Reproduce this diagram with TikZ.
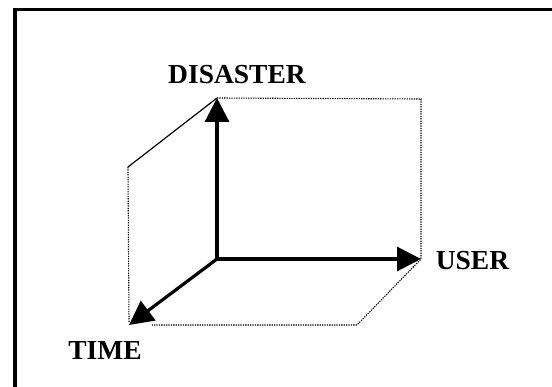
\documentclass[tikz,border=0pt]{standalone}
\usepackage{fontspec}
\setmainfont{Liberation Serif}
\usetikzlibrary{arrows.meta}
\begin{document}
\begin{tikzpicture}[x=1pt,y=-1pt,
  axis/.style={line width=3.2pt,-{Triangle[length=24pt,width=24pt]}},
  guide/.style={line width=1.1pt,dash pattern=on 1.3pt off 1.1pt},
  edge/.style={line width=1.2pt},
  frameline/.style={line width=3.4pt},
  lbl/.style={font=\bfseries\fontsize{27.5}{30}\selectfont,inner sep=0pt}]
\useasboundingbox (0,0) rectangle (552,387);
\fill[white] (0,0) rectangle (552,387);
% frame (only top and left edges visible)
\coordinate (FL) at (15,387);
\coordinate (FC) at (15,9.5);
\coordinate (FR) at (552,9.5);
\draw[frameline] (FL) -- (FC) -- (FR);
% key points
\coordinate (O) at (217,259);
\coordinate (D) at (217,98);
\coordinate (U) at (421,259);
\coordinate (T) at (129,325);
\coordinate (DR) at (421,99);
\coordinate (B) at (357,325);
\coordinate (BL) at (152,325);
\coordinate (L) at (128,167);
\coordinate (LB) at (129,322);
% guide lines
\draw[guide] (D) -- (DR) -- (U) -- (B) -- (BL);
\draw[guide] (L) -- (LB);
\draw[edge] (L) -- (D);
% axes
\draw[axis] (O) -- (D);
\draw[axis] (O) -- (U);
\draw[axis] (O) -- (T);
% labels
\node[lbl] (dis) at (237,75) {DISASTER};
\node[lbl] (usr) at (472.5,261) {USER};
\node[lbl] (tim) at (105,350) {TIME};
\end{tikzpicture}
\end{document}
